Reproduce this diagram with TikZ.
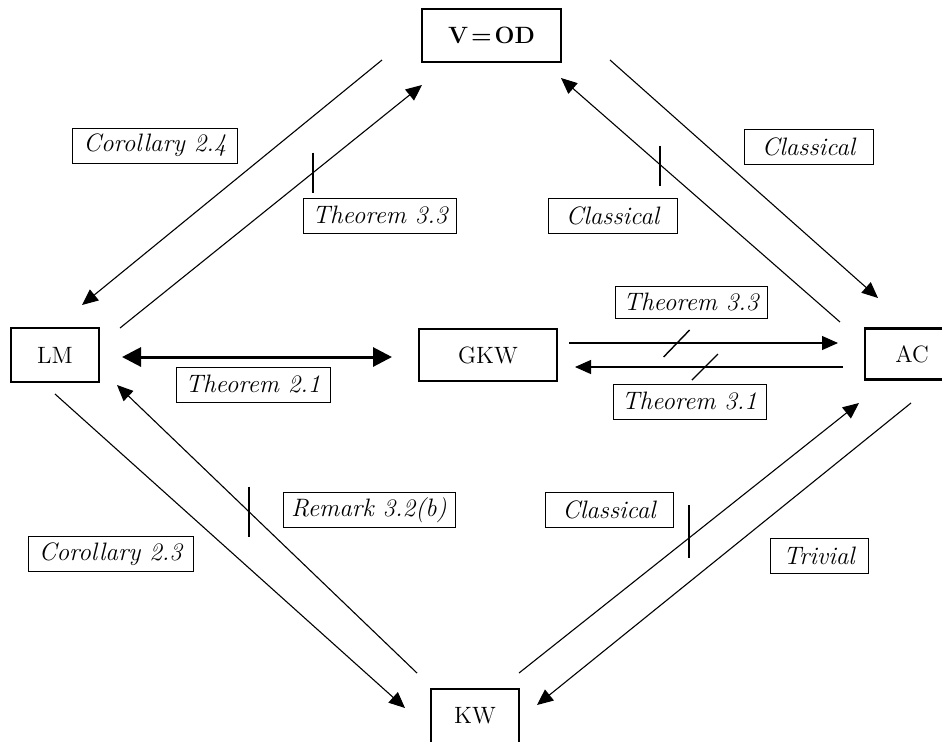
\documentclass[tikz,border=0pt]{standalone}
\usetikzlibrary{arrows.meta,calc}

\tikzset{
  thm/.style={draw,line width=1.1pt,inner sep=0pt,font=\fontsize{11.8}{14}\selectfont},
  lbl/.style={draw,line width=0.5pt,inner sep=0pt,minimum height=17.5pt,font=\fontsize{12.6}{14}\selectfont\itshape},
  imp/.style={line width=0.55pt,-{Triangle[length=8pt,width=7pt]}},
  neg/.style={line width=0.7pt},
}

\begin{document}
\begin{tikzpicture}[x=0.5pt,y=0.5pt,yscale=-1,xscale=1]
\useasboundingbox (0,0) rectangle (942,741);

%Shape: Rectangle [vod, lm, gkw, ac, kw]
\node[thm,minimum width=69.5pt,minimum height=26.5pt] (vod) at (491.5,35.5) {\bfseries V\kern1.5pt=\kern1.5pt OD};
\node[thm,minimum width=44pt,minimum height=27pt] (lm) at (55,355) {LM};
\node[thm,minimum width=69pt,minimum height=26pt] (gkw) at (488,355) {GKW};
\node[thm,minimum width=47pt,minimum height=25.5pt] (ac) at (912,354) {AC};
\node[thm,minimum width=44pt,minimum height=27pt] (kw) at (475,716) {KW};

%Straight Lines: end points
\coordinate (c24a) at (382,60);  \coordinate (c24b) at (82,305);
\coordinate (t33a) at (120,328); \coordinate (t33b) at (422,85);
\coordinate (cl1a) at (610,60);  \coordinate (cl1b) at (878,298);
\coordinate (cl2a) at (840,322); \coordinate (cl2b) at (561,78);
\coordinate (t21a) at (122,357); \coordinate (t21b) at (392,357);
\coordinate (g33a) at (569,343); \coordinate (g33b) at (838,343);
\coordinate (g31a) at (843,367); \coordinate (g31b) at (575,367);
\coordinate (c23a) at (55,394);  \coordinate (c23b) at (405,708);
\coordinate (r32a) at (417,673); \coordinate (r32b) at (117,385);
\coordinate (cl3a) at (519,673); \coordinate (cl3b) at (859,403);
\coordinate (trva) at (911,403); \coordinate (trvb) at (537,705);

%Straight Lines: arrows
\draw[imp] (c24a) -- (c24b);
\draw[imp] (t33a) -- (t33b);
\draw[imp] (cl1a) -- (cl1b);
\draw[imp] (cl2a) -- (cl2b);
\draw[line width=1.5pt,{Triangle[length=9.5pt,width=9.5pt]}-{Triangle[length=9.5pt,width=9.5pt]}] (t21a) -- (t21b);
\draw[imp] (g33a) -- (g33b);
\draw[imp] (g31a) -- (g31b);
\draw[imp] (c23a) -- (c23b);
\draw[imp] (r32a) -- (r32b);
\draw[imp] (cl3a) -- (cl3b);
\draw[imp] (trva) -- (trvb);

%Straight Lines: strokes through the non-implications
\draw[neg] ($(t33a)!0.639!(t33b)$) +(0,-20) -- +(0,20);
\draw[neg] ($(cl2a)!0.645!(cl2b)$) +(0,-19) -- +(0,21);
\draw[neg] ($(r32a)!0.56!(r32b)$) +(0,-25) -- +(0,25);
\draw[neg] ($(cl3a)!0.5!(cl3b)$) +(0,-33) -- +(0,20);
\draw[neg] ($(g33a)!0.40!(g33b)$) +(-13,14) -- +(13,-13);
\draw[neg] ($(g31a)!0.515!(g31b)$) +(-13,13) -- +(13,-13);

%Text boxes
\node[lbl,minimum width=82.5pt] (l24) at (155,145.5) {Corollary 2.4};
\node[lbl,minimum width=76.5pt] (l33) at (380,215.5) {Theorem 3.3};
\node[lbl,minimum width=64.5pt] (lcr) at (808.5,146.5) {Classical};
\node[lbl,minimum width=64.5pt] (lcl) at (612.5,215.5) {Classical};
\node[lbl,minimum width=76pt,minimum height=16pt] (lg33) at (691,302) {Theorem 3.3};
\node[lbl,minimum width=76.5pt] (lg31) at (689.5,401.5) {Theorem 3.1};
\node[lbl,minimum width=77pt] (l21) at (253,384.5) {Theorem 2.1};
\node[lbl,minimum width=86pt] (l32) at (369,510) {Remark 3.2(b)};
\node[lbl,minimum width=82.5pt] (l23) at (110.5,554) {Corollary 2.3};
\node[lbl,minimum width=64pt] (lcb) at (609,510) {Classical};
\node[lbl,minimum width=49pt] (ltr) at (819,555.5) {Trivial};

\end{tikzpicture}
\end{document}
